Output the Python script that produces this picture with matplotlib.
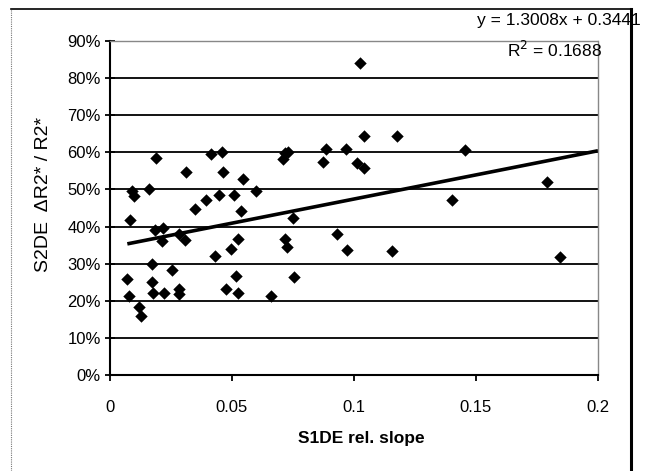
import numpy as np
import matplotlib.pyplot as plt
from matplotlib.lines import Line2D

plt.rcParams['font.family'] = ['Liberation Sans', 'DejaVu Sans']

# S1DE rel. slope vs S2DE dR2*/R2*
x_vals = [0.0071, 0.0076, 0.0083, 0.0091, 0.0100, 0.0118, 0.0125, 0.0160, 0.0173, 0.0173,
          0.0178, 0.0186, 0.0190, 0.0218, 0.0212, 0.0223, 0.0254, 0.0281, 0.0284, 0.0284,
          0.0308, 0.0311, 0.0349, 0.0393, 0.0415, 0.0430, 0.0445, 0.0457, 0.0462, 0.0477,
          0.0497, 0.0508, 0.0518, 0.0525, 0.0525, 0.0535, 0.0545, 0.0600, 0.0660, 0.0707,
          0.0719, 0.0731, 0.0716, 0.0724, 0.0748, 0.0753, 0.0871, 0.0887, 0.0931, 0.0968,
          0.0973, 0.1012, 0.1025, 0.1042, 0.1042, 0.1154, 0.1176, 0.1400, 0.1455, 0.1789,
          0.1843]
y_vals = [0.258, 0.213, 0.419, 0.496, 0.482, 0.182, 0.159, 0.500, 0.298, 0.250,
          0.222, 0.390, 0.584, 0.396, 0.360, 0.222, 0.284, 0.381, 0.231, 0.218,
          0.363, 0.546, 0.446, 0.471, 0.595, 0.320, 0.484, 0.600, 0.546, 0.232,
          0.340, 0.484, 0.268, 0.220, 0.367, 0.442, 0.528, 0.496, 0.213, 0.582,
          0.598, 0.601, 0.367, 0.345, 0.422, 0.265, 0.575, 0.609, 0.380, 0.609,
          0.336, 0.570, 0.842, 0.643, 0.557, 0.334, 0.643, 0.471, 0.606, 0.519,
          0.317]

slope, intercept = 1.3008, 0.3441
r_squared = 0.1688

x_ticks = [0, 0.05, 0.1, 0.15, 0.2]
x_labels = ['0', '0.05', '0.1', '0.15', '0.2']
y_ticks = [0, 0.1, 0.2, 0.3, 0.4, 0.5, 0.6, 0.7, 0.8, 0.9]
y_labels = ['0%', '10%', '20%', '30%', '40%', '50%', '60%', '70%', '80%', '90%']

fig = plt.figure(figsize=(6.47, 4.71), dpi=100)
ax = fig.add_axes([110/647, 1 - 375/471, 488/647, 334/471])

# horizontal gridlines (black, Excel style)
for yv in y_ticks[1:-1]:
    ax.axhline(yv, color='black', lw=1.3, zorder=1)

ax.scatter(x_vals, y_vals, marker='D', s=40, color='black', linewidths=0, zorder=3)

# linear trendline
xl = np.array([min(x_vals), 0.2])
ax.plot(xl, slope * xl + intercept, color='black', lw=2.6, zorder=2, solid_capstyle='butt')

ax.set_xlim(0, 0.2)
ax.set_ylim(0, 0.9)
ax.set_xticks(x_ticks)
ax.set_xticklabels(x_labels)
ax.set_yticks(y_ticks)
ax.set_yticklabels(y_labels)
ax.tick_params(axis='y', direction='inout', length=7, width=1.3, labelsize=12, pad=3)
ax.tick_params(axis='x', direction='out', length=4, width=1.3, labelsize=12, pad=14)

for side in ['left', 'bottom']:
    ax.spines[side].set_color('black')
    ax.spines[side].set_linewidth(1.5)
for side in ['top', 'right']:
    ax.spines[side].set_color('#888888')
    ax.spines[side].set_linestyle((0, (1, 1)))
    ax.spines[side].set_linewidth(1.0)

fig.text(44/647, 1 - 194/471, 'S2DE  \u0394R2* / R2*', rotation=90,
         ha='center', va='center', fontsize=14)
fig.text(361/647, 1 - 438/471, 'S1DE rel. slope', ha='center', va='center',
         fontsize=12.5, fontweight='bold')

fig.text(559/647, 1 - 20/471, f'y = {slope:.4f}x + {intercept:.4f}',
         ha='center', va='center', fontsize=12.5)
fig.text(555/647, 1 - 50/471, f'R$^2$ = {r_squared:.4f}',
         ha='center', va='center', fontsize=12.5)

# outer chart frame
fig.add_artist(Line2D([11/647, 631/647], [1 - 9/471, 1 - 9/471],
                      transform=fig.transFigure, color='black', lw=1.2))
fig.add_artist(Line2D([11/647, 11/647], [0, 1 - 9/471],
                      transform=fig.transFigure, color='#777777', lw=0.8, ls=(0, (1, 1))))
fig.add_artist(Line2D([631/647, 631/647], [0, 1 - 9/471],
                      transform=fig.transFigure, color='black', lw=2.2))

fig.savefig('out.png', dpi=100)
